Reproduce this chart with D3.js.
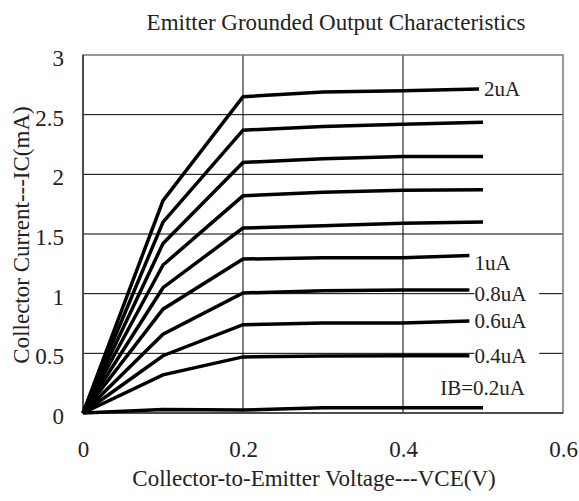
<!DOCTYPE html>
<html>
<head>
<meta charset="utf-8">
<script src="https://cdn.jsdelivr.net/npm/d3@7"></script>
<style>
  html, body { margin: 0; padding: 0; background: #fff; }
  svg text { font-family: "Liberation Serif", "DejaVu Serif", serif; fill: #222; }
</style>
</head>
<body>
<svg id="chart" width="579" height="501"></svg>
<script>
// Collector voltage sample points (V)
const vce = [0, 0.1, 0.2, 0.3, 0.4];

// Collector current (mA) per base current curve, sampled at vce
const ib20 = [0, 1.78, 2.65, 2.69, 2.70];
const ib18 = [0, 1.60, 2.37, 2.40, 2.42];
const ib16 = [0, 1.42, 2.10, 2.13, 2.15];
const ib14 = [0, 1.24, 1.82, 1.85, 1.867];
const ib12 = [0, 1.05, 1.55, 1.57, 1.59];
const ib10 = [0, 0.87, 1.29, 1.30, 1.30];
const ib08 = [0, 0.66, 1.006, 1.025, 1.03];
const ib06 = [0, 0.48, 0.74, 0.754, 0.754];
const ib04 = [0, 0.32, 0.47, 0.478, 0.48];
const ib02 = [0, 0.03, 0.025, 0.045, 0.045];

// Final point of each curve
const endVce = [0.495, 0.5, 0.5, 0.5, 0.5, 0.483, 0.483, 0.483, 0.483, 0.5];
const endIc  = [2.716, 2.437, 2.15, 1.87, 1.60, 1.32, 1.03, 0.77, 0.48, 0.045];

const curveNames = ["2uA", "", "", "", "", "1uA", "0.8uA", "0.6uA", "0.4uA", "IB=0.2uA"];

const xTicks = [0, 0.2, 0.4, 0.6];
const yTicks = [0, 0.5, 1, 1.5, 2, 2.5, 3];

const curves = [ib20, ib18, ib16, ib14, ib12, ib10, ib08, ib06, ib04, ib02].map((ic, i) => ({
  name: curveNames[i],
  points: vce.map((v, j) => [v, ic[j]]).concat([[endVce[i], endIc[i]]])
}));

const svg = d3.select("#chart");
const plot = { left: 83, right: 563, top: 55, bottom: 413 };

const x = d3.scaleLinear().domain([0, 0.6]).range([plot.left, plot.right]);
const y = d3.scaleLinear().domain([0, 3]).range([plot.bottom, plot.top]);

// Grid lines
const grid = svg.append("g");
grid.selectAll("line.gx").data(xTicks.slice(1, -1)).join("line")
  .attr("x1", d => x(d)).attr("x2", d => x(d))
  .attr("y1", plot.top).attr("y2", plot.bottom)
  .attr("stroke", "#000").attr("stroke-width", 1);
grid.selectAll("line.gy").data(yTicks.slice(1, -1)).join("line")
  .attr("x1", plot.left).attr("x2", plot.right)
  .attr("y1", d => y(d)).attr("y2", d => y(d))
  .attr("stroke", "#000").attr("stroke-width", 1);

// Plot frame
svg.append("rect")
  .attr("x", plot.left).attr("y", plot.top)
  .attr("width", plot.right - plot.left).attr("height", plot.bottom - plot.top)
  .attr("fill", "none").attr("stroke", "#777").attr("stroke-width", 1.5);
svg.append("path")
  .attr("d", `M${plot.left},${plot.top}V${plot.bottom}H${plot.right}`)
  .attr("fill", "none").attr("stroke", "#333").attr("stroke-width", 1.5);

// Axes (labels only; the frame draws the lines)
const xAxis = d3.axisBottom(x).tickValues(xTicks).tickSize(0).tickPadding(0)
  .tickFormat(d => d === 0 ? "0" : d3.format(".1f")(d));
svg.append("g").attr("transform", `translate(0,${plot.bottom})`).call(xAxis)
  .call(g => g.select(".domain").remove())
  .call(g => g.selectAll("text").attr("font-size", 23).attr("dy", null).attr("y", 44)
    .attr("fill", "#222").style("font-family", "Liberation Serif"));

const yAxis = d3.axisLeft(y).tickValues(yTicks).tickSize(0).tickPadding(0)
  .tickFormat(d => Number.isInteger(d) ? String(d) : d3.format(".1f")(d));
svg.append("g").attr("transform", `translate(${plot.left},0)`).call(yAxis)
  .call(g => g.select(".domain").remove())
  .call(g => g.selectAll("text").attr("font-size", 23).attr("x", -19).attr("dy", "0.45em")
    .attr("fill", "#222").style("font-family", "Liberation Serif"));

// Curves
const line = d3.line().x(d => x(d[0])).y(d => y(d[1]));
svg.append("g").selectAll("path").data(curves).join("path")
  .attr("d", d => line(d.points))
  .attr("fill", "none").attr("stroke", "#000")
  .attr("stroke-width", 3.5).attr("stroke-linejoin", "miter");

// Curve labels with white backing
const labelNudge = { "1uA": 7, "0.8uA": 4 };
const labels = svg.append("g");
curves.filter(c => c.name).forEach(c => {
  const last = c.points[c.points.length - 1];
  const isBottom = c.name.startsWith("IB");
  const tx = isBottom ? 525 : x(last[0]) + 5;
  const ty = isBottom ? y(last[1]) - 20 : y(last[1]) + (labelNudge[c.name] || 0);
  const g = labels.append("g");
  const t = g.append("text")
    .attr("x", tx).attr("y", ty).attr("dy", "0.35em")
    .attr("text-anchor", isBottom ? "end" : "start")
    .attr("font-size", 21).text(c.name);
  const bb = t.node().getBBox();
  g.insert("rect", "text")
    .attr("x", bb.x).attr("y", bb.y + 2)
    .attr("width", bb.width + 12).attr("height", bb.height - 4)
    .attr("fill", "#fff");
});

// Titles
svg.append("text").attr("x", 336).attr("y", 30).attr("text-anchor", "middle")
  .attr("font-size", 23).text("Emitter Grounded Output Characteristics");
svg.append("text").attr("x", 314).attr("y", 486).attr("text-anchor", "middle")
  .attr("font-size", 23).text("Collector-to-Emitter Voltage---VCE(V)");
svg.append("text").attr("transform", "translate(29,235) rotate(-90)")
  .attr("text-anchor", "middle")
  .attr("font-size", 23).text("Collector Current---IC(mA)");
</script>
</body>
</html>
